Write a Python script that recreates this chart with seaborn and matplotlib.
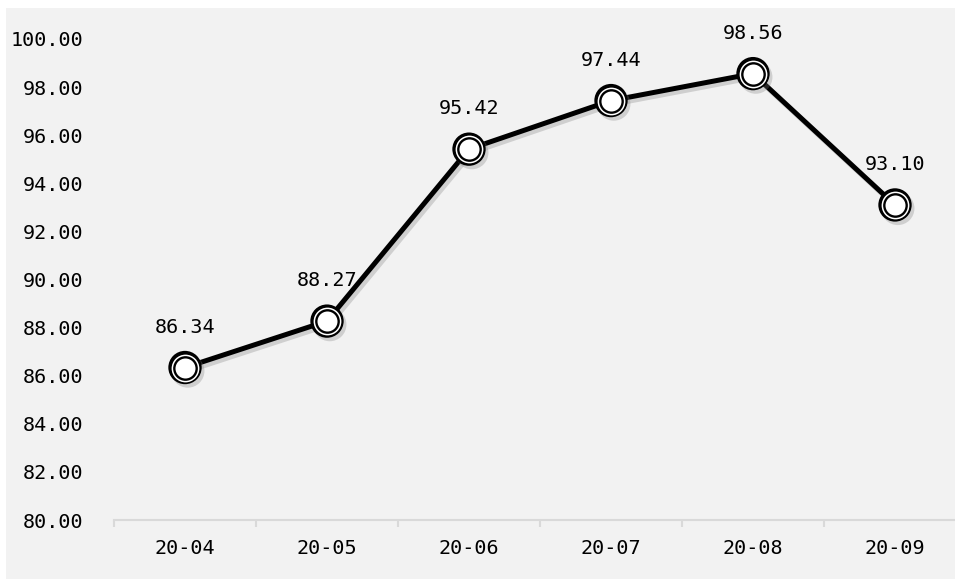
import numpy as np
import pandas as pd
import matplotlib
matplotlib.use('Agg')
import matplotlib.pyplot as plt
import matplotlib.patheffects as pe
from matplotlib.patches import Rectangle
import seaborn as sns

# data
months = ['20-04', '20-05', '20-06', '20-07', '20-08', '20-09']
scores = [86.34, 88.27, 95.42, 97.44, 98.56, 93.10]
y_ticks = [80, 82, 84, 86, 88, 90, 92, 94, 96, 98, 100]

df = pd.DataFrame({'month': months, 'score': scores})

sns.set_theme(style='white')
# monospaced ASCII like the original (SimHei-style) font
plt.rcParams['font.family'] = ['DejaVu Sans Mono', 'Noto Sans CJK SC']

fig = plt.figure(figsize=(9.55, 5.81), dpi=100, facecolor='white')
# light gray panel behind the chart (white strip top and left as in reference)
fig.add_artist(Rectangle((6 / 955, 2 / 581), 1, (581 - 10) / 581,
                         transform=fig.transFigure, facecolor='#f2f2f2',
                         edgecolor='none', zorder=-10))

ax = fig.add_axes([114 / 955, 61 / 581, 852 / 955, 481 / 581])
ax.set_zorder(1)
ax.patch.set_visible(False)

shadow = [pe.SimpleLineShadow(offset=(2, -2.5), shadow_color='#7f7f7f', alpha=0.3),
          pe.Normal()]

sns.lineplot(data=df, x='month', y='score', color='black', linewidth=3.6,
             ax=ax, sort=False, zorder=2, path_effects=shadow)

# double-ring markers drawn in layers
x = np.arange(len(months))
ax.plot(x, scores, 'o', ms=24, color='black', mew=0, zorder=3,
        path_effects=[pe.SimplePatchShadow(offset=(2, -2.5), shadow_rgbFace='#7f7f7f', alpha=0.3),
                      pe.Normal()])
ax.plot(x, scores, 'o', ms=20.0, color='white', mew=0, zorder=4)
ax.plot(x, scores, 'o', ms=17.8, color='black', mew=0, zorder=5)
ax.plot(x, scores, 'o', ms=14.4, color='white', mew=0, zorder=6)

for xi, v in zip(x, scores):
    ax.annotate(f'{v:.2f}', (xi, v), xytext=(0, 29), textcoords='offset points',
                ha='center', va='center', fontsize=14.5, color='black', zorder=7)

ax.set_xlim(-0.5, len(months) - 0.5)
ax.set_ylim(80, 100)
ax.set_yticks(y_ticks)
ax.set_yticklabels([f'{t:.2f}' for t in y_ticks])
ax.set_xticks(x)
ax.set_xticklabels(months)
ax.set_xticks(np.arange(-0.5, len(months), 1), minor=True)
ax.tick_params(axis='x', which='major', length=0, pad=14, labelsize=14.5, labelcolor='black')
ax.tick_params(axis='x', which='minor', length=5, width=1.5, color='#d9d9d9', bottom=True)
ax.tick_params(axis='y', length=0, pad=22, labelsize=14.5, labelcolor='black')
ax.set_xlabel('')
ax.set_ylabel('')
ax.grid(False)

for side in ['top', 'right', 'left']:
    ax.spines[side].set_visible(False)
ax.spines['bottom'].set_color('#d9d9d9')
ax.spines['bottom'].set_linewidth(1.5)

fig.savefig('out.png', dpi=100, facecolor=fig.get_facecolor())
